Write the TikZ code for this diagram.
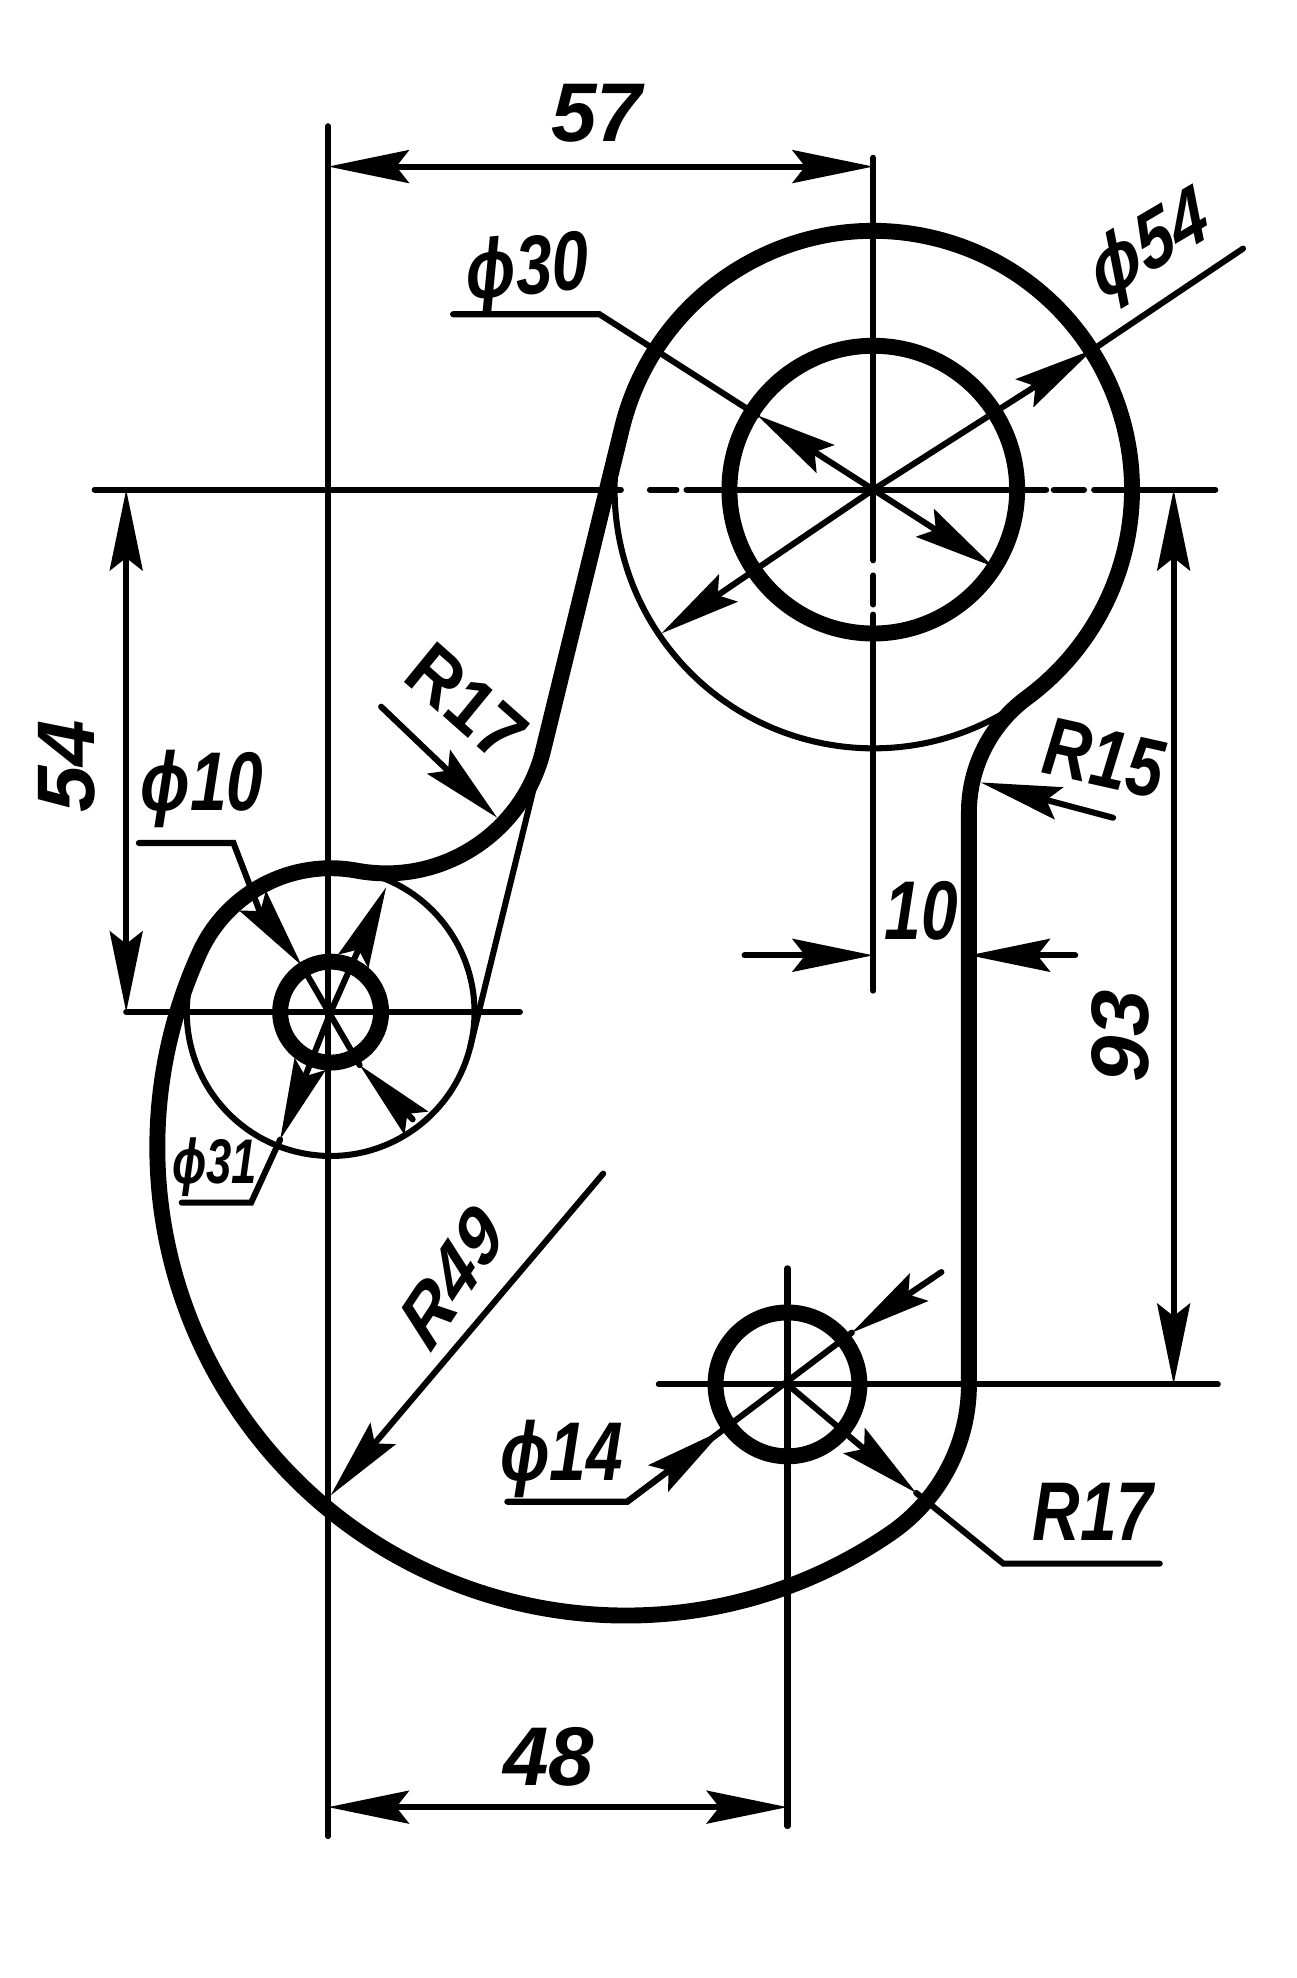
\documentclass[tikz,border=0pt]{standalone}
\usepackage{fontspec}
\setmainfont{Liberation Sans}
\usetikzlibrary{arrows.meta}
\tikzset{
  outline/.style={line width=6.3pt,line cap=round,line join=round,black},
  thinl/.style={line width=2.4pt,line cap=round,line join=miter,black},
  arr/.style={thinl,-{Stealth[length=32pt,width=13pt,inset=5pt]}},
  arrb/.style={thinl,{Stealth[length=32pt,width=13pt,inset=5pt]}-{Stealth[length=32pt,width=13pt,inset=5pt]}},
  dimtext/.style={font=\fontsize{33}{36}\selectfont\bfseries\itshape,inner sep=0pt,xscale=0.79},
  dimnum/.style={font=\fontsize{33}{36}\selectfont\bfseries\itshape,inner sep=0pt,xscale=0.98},
  smalltext/.style={font=\fontsize{25}{28}\selectfont\bfseries\itshape,inner sep=0pt,xscale=0.72}
}
\begin{document}
\begin{tikzpicture}[x=0.5pt,y=-0.5pt]
\useasboundingbox (0,0) rectangle (1027,1567.4);
% centres
\coordinate (A) at (692,388);        % phi54/phi30
\coordinate (B) at (262,802);        % phi31/phi10
\coordinate (D) at (624.6,1097);     % phi14/R17
\coordinate (E) at (495.72,909.06);  % R49
\coordinate (F) at (306,564.1);      % R17 fillet
\coordinate (G) at (881,644);        % R15 fillet
% centre lines
\draw[thinl] (260,100) -- (260,1455);
\draw[thinl] (692,125) -- (692,444);
\draw[thinl] (692,456) -- (692,479);
\draw[thinl] (692,487) -- (692,785);
\draw[thinl] (75,388) -- (492,388);
\draw[thinl] (515,388) -- (536,388);
\draw[thinl] (544,388) -- (829,388);
\draw[thinl] (835,388) -- (859,388);
\draw[thinl] (867,388) -- (963,388);
\draw[thinl] (100,802) -- (412,802);
\draw[thinl] (522,1097) -- (965,1097);
\draw[thinl] (624,1005) -- (624,1447);
% thin construction arcs
\draw[thinl] (A) ++(53.56:205) arc[start angle=53.56,end angle=193.79,radius=205];
\draw[thinl] (B) ++(-79.5:114) arc[start angle=-79.5,end angle=204.61,radius=114];
\draw[thinl] (372.7,829.2) -- (430.3,594.6);
% outline
\draw[outline] (E) ++(55.56:371.09)
  arc[start angle=55.56,end angle=204.61,radius=371.09]
  arc[start angle=204.61,end angle=280.5,radius=114]
  arc[start angle=100.5,end angle=13.79,radius=128]
  -- (492.9,339.1)
  arc[start angle=193.79,end angle=413.56,radius=205]
  arc[start angle=233.56,end angle=180,radius=113.2]
  -- (767.8,1097)
  arc[start angle=0,end angle=55.56,radius=143.2]
  -- cycle;
% holes
\draw[outline] (A) circle[radius=114];
\draw[outline] (B) circle[radius=40];
\draw[outline] (624,1097) circle[radius=57];
% dimensions
\draw[arrb] (260,132) -- (692,132);
\draw[arrb] (100,388) -- (100,802);
\draw[arrb] (930,388) -- (930,1097);
\draw[arrb] (260,1432) -- (624,1432);
\draw[arr] (590,757) -- (692,757);
\draw[arr] (852,757) -- (768,757);
% leaders
\draw[arr] (882,648) -- (777,620);
\draw[arr] (302,560) -- (394,648);
\draw[arr] (478,930) -- (262,1185);
% phi30
\draw[thinl] (359,249) -- (475,249) -- (600,329);
\draw[arr] (A) -- (600,329);
\draw[arr] (A) -- (787,449);
% phi54
\draw[thinl] (985,197) -- (866,277);
\draw[arr] (A) -- (866,277);
\draw[arr] (A) -- (524,502);
% phi10
\draw[thinl] (110,668) -- (185,668) -- (205,720);
\draw[arr] (205,720) -- (239,765);
\draw[arr] (327,887) -- (285,844);
\draw[thinl] (239,765) -- (285,844);
% phi31
\draw[arr] (B) -- (306,703);
\draw[arr] (B) -- (222,903);
\draw[thinl] (144,953) -- (199,953) -- (222,903);
% phi14
\draw[thinl] (402,1190) -- (497,1190) -- (573,1133);
\draw[arr] (497,1190) -- (573,1133);
\draw[arr] (746,1008) -- (675,1056);
\draw[thinl] (573,1133) -- (675,1056);
% R17 lower
\draw[arr] (624,1097) -- (726,1183);
\draw[thinl] (726,1183) -- (795,1239) -- (919,1239);
% texts
\node[dimnum] (t57) at (473,90) {57};
\node[dimtext,rotate=25] (t54a) at (912,197) {ϕ54};
\node[dimtext,rotate=4] (t30) at (418,216) {ϕ30};
\node[dimtext,rotate=-35] (t17a) at (369,556) {R17};
\node[dimtext] (t10a) at (160,625) {ϕ10};
\node[dimnum,rotate=90] (t54) at (53,607) {54};
\node[dimtext,rotate=-10] (t15) at (875,601) {R15};
\node[dimtext] (t10) at (730,722) {10};
\node[dimnum,rotate=90] (t93) at (888,821) {93};
\node[dimtext,rotate=50] (t49) at (358,1012) {R49};
\node[dimtext] (t14) at (445,1156) {ϕ14};
\node[dimtext] (t17b) at (866,1198) {R17};
\node[dimnum] (t48) at (435,1392) {48};
\node[smalltext] (t31) at (170,925) {ϕ31};
\end{tikzpicture}
\end{document}
